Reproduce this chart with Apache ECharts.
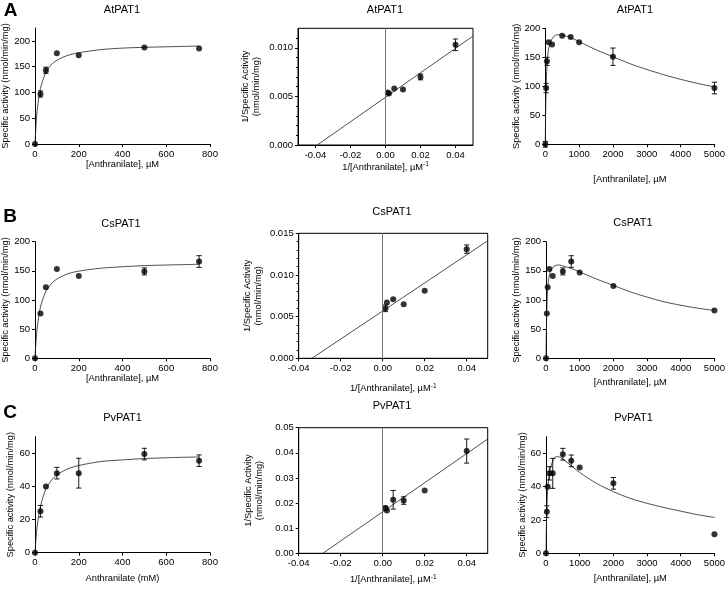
<!DOCTYPE html>
<html><head><meta charset="utf-8">
<script src="https://cdn.jsdelivr.net/npm/echarts@6/dist/echarts.min.js"></script>
<style>html,body{margin:0;padding:0;background:#fff}#c{width:728px;height:589px}</style>
</head><body><div id="c"></div>
<script>
// ---------- data ----------
const satX = [0, 25, 50, 100, 200, 500, 750];
const inhX = [0, 25, 50, 100, 200, 500, 750, 1000, 2000, 5000];
const lbX  = [0.00133, 0.002, 0.005, 0.01, 0.02, 0.04];

// AtPAT1
const atSatY   = [0, 97, 143, 176, 172, 187, 185];
const atSatErr = [0, 6, 6, 0, 0, 0, 0];
const atInhY   = [0, 97, 143, 176, 172, 187, 185, 176, 151, 97];
const atInhErr = [5, 8, 7, 0, 0, 0, 0, 0, 15, 10];
const atLbY    = [0.0054, 0.0053, 0.0058, 0.0057, 0.0070, 0.0103];
const atLbErr  = [0, 0, 0, 0, 0.0003, 0.0006];

// CsPAT1
const csSatY   = [0, 77, 122, 153, 141, 149, 166];
const csSatErr = [0, 0, 0, 0, 0, 6, 10];
const csInhY   = [0, 77, 122, 153, 141, 149, 166, 147, 124, 82];
const csInhErr = [0, 0, 0, 0, 0, 6, 10, 0, 0, 0];
const csLbY    = [0.0060, 0.0067, 0.0071, 0.0065, 0.0081, 0.0131];
const csLbErr  = [0.0004, 0, 0, 0, 0, 0.0005];

// PvPAT1
const pvSatY   = [0, 25, 40, 48, 48, 59.5, 55.5];
const pvSatErr = [0, 3.5, 0, 3.5, 9, 3.5, 3.5];
const pvInhY   = [0, 25, 40, 48, 48, 59.5, 55.5, 51.5, 42, 11.5];
const pvInhErr = [0, 3.5, 0, 4, 9, 3.5, 3.5, 0, 3.5, 0];
const pvLbY    = [0.0180, 0.0170, 0.0213, 0.0210, 0.0250, 0.0407];
const pvLbErr  = [0.0007, 0, 0.0037, 0.0015, 0, 0.0048];

// fitted curves
const satFitX   = [0, 5, 10, 25, 50, 75, 100, 150, 200, 300, 400, 500, 600, 750];
const atSatFitY = [0, 39, 65, 108, 139, 154, 162.5, 172, 177, 183, 186, 187.5, 188.5, 190];
const csSatFitY = [0, 31, 52, 88, 115, 128, 136, 145, 149.5, 154.5, 157, 159, 160, 161.3];
const pvSatFitY = [0, 9, 16, 28, 38.5, 43.7, 47, 50.6, 52.6, 55, 56, 56.8, 57.3, 57.8];

const inhFitX   = [0, 10, 25, 50, 100, 200, 300, 400, 500, 750, 1000, 1500, 2000, 2500, 3000, 3500, 4000, 4500, 5000];
const atInhFitY = [0, 55, 95, 135, 165, 182, 188, 189, 188.5, 184, 177, 163, 151, 139, 129, 120, 112, 105, 99];
const csInhFitY = [0, 45, 85, 118, 143, 156, 159.5, 160, 158.5, 154, 148, 136, 125, 114, 105, 97, 91, 86, 82];
const pvInhFitY = [0, 14, 27, 38, 48, 55.5, 58, 57.8, 56.5, 52.5, 48.5, 42, 37, 33, 30, 27.5, 25.3, 23.2, 21.5];

const atLbLineX = [-0.039, 0.05],  atLbLineY = [0, 0.0112];
const csLbLineX = [-0.0337, 0.05], csLbLineY = [0, 0.0141];
const pvLbLineX = [-0.0285, 0.05], pvLbLineY = [0, 0.0455];

// tick labels
const satXTicks = [0, 200, 400, 600, 800];
const inhXTicks = [0, 1000, 2000, 3000, 4000, 5000];
const lbXTicks  = [-0.04, -0.02, 0, 0.02, 0.04];
const at200Ticks = [0, 50, 100, 150, 200];
const pv60Ticks  = [0, 20, 40, 60];

const titles = ['AtPAT1', 'CsPAT1', 'PvPAT1'];
const letters = ['A', 'B', 'C'];

// ---------- build ----------
const FF = '"Liberation Sans", Arial, Helvetica, sans-serif';
const zip = (a, b) => a.map((v, i) => [v, b[i]]);
const zip3 = (a, b, c) => a.map((v, i) => [v, b[i], c[i]]).filter(d => d[2] > 0);

const grids = [
  {left: 35,    top: 28,    width: 175, height: 116},
  {left: 298,   top: 28.3,  width: 175, height: 116.7, lb: true},
  {left: 545.3, top: 28.3,  width: 172, height: 116},
  {left: 35,    top: 241.7, width: 175, height: 116.6},
  {left: 298.7, top: 233.3, width: 189, height: 125, lb: true},
  {left: 546,   top: 241.7, width: 171, height: 116.6},
  {left: 35,    top: 436.7, width: 175, height: 116},
  {left: 298.7, top: 427.7, width: 189, height: 125.6, lb: true},
  {left: 546,   top: 436.7, width: 171, height: 116.6}
];

const axisCommon = {
  axisLine: {show: true, onZero: false, lineStyle: {color: '#000', width: 1}},
  axisTick: {show: true, length: 3, lineStyle: {color: '#000', width: 1}},
  splitLine: {show: false},
  nameTextStyle: {fontFamily: FF, fontSize: 9.3, color: '#000'}
};
function lab(fmt, cv, margin) {
  return {fontFamily: FF, fontSize: 9.5, color: '#000', margin: margin, formatter: fmt, customValues: cv, hideOverlap: false};
}

const xAxes = [], yAxes = [], series = [], titleArr = [];

const panels = [
  // row A
  {kind: 'sat', x: satX, y: atSatY, e: atSatErr, fx: satFitX, fy: atSatFitY, ymax: 225, yt: at200Ticks, xname: '[Anthranilate], µM', xgap: 15, ygap: 25},
  {kind: 'lb', x: lbX, y: atLbY, e: atLbErr, lx: atLbLineX, ly: atLbLineY, xmin: -0.05, ymax: 0.012, yint: 0.005, ydec: 3, minor: true, xgap: 14, ygap: 36},
  {kind: 'inh', x: inhX, y: atInhY, e: atInhErr, fx: inhFitX, fy: atInhFitY, ymax: 200, yt: at200Ticks, xname: '[Anthranilate], µM', xgap: 31, ygap: 23},
  // row B
  {kind: 'sat', x: satX, y: csSatY, e: csSatErr, fx: satFitX, fy: csSatFitY, ymax: 200, yt: at200Ticks, xname: '[Anthranilate], µM', xgap: 14, ygap: 25},
  {kind: 'lb', x: lbX, y: csLbY, e: csLbErr, lx: csLbLineX, ly: csLbLineY, xmin: -0.04, ymax: 0.015, yint: 0.005, ydec: 3, minor: true, xgap: 24, ygap: 35},
  {kind: 'inh', x: inhX, y: csInhY, e: csInhErr, fx: inhFitX, fy: csInhFitY, ymax: 200, yt: at200Ticks, xname: '[Anthranilate], µM', xgap: 20, ygap: 24},
  // row C
  {kind: 'sat', x: satX, y: pvSatY, e: pvSatErr, fx: satFitX, fy: pvSatFitY, ymax: 70, yt: pv60Ticks, xname: 'Anthranilate (mM)', xgap: 21, ygap: 20},
  {kind: 'lb', x: lbX, y: pvLbY, e: pvLbErr, lx: pvLbLineX, ly: pvLbLineY, xmin: -0.04, ymax: 0.05, yint: 0.01, ydec: 2, minor: false, xgap: 20, ygap: 34},
  {kind: 'inh', x: inhX, y: pvInhY, e: pvInhErr, fx: inhFitX, fy: pvInhFitY, ymax: 70, yt: pv60Ticks, xname: '[Anthranilate], µM', xgap: 21, ygap: 19}
];

const titlePos = [[122, 10], [385, 10], [635, 10], [121, 224], [392, 212], [633, 223], [122.5, 418], [392, 406], [633.5, 418]];
const letterPos = [[10.5, 10.5], [10, 216.5], [10, 413]];

function errRender(params, api) {
  const x = api.value(0), y = api.value(1), e = api.value(2);
  const t = api.coord([x, y + e]), b = api.coord([x, y - e]);
  const hw = 2.6, st = {stroke: '#000', lineWidth: 0.9};
  return {type: 'group', children: [
    {type: 'line', shape: {x1: t[0], y1: t[1], x2: b[0], y2: b[1]}, style: st},
    {type: 'line', shape: {x1: t[0] - hw, y1: t[1], x2: t[0] + hw, y2: t[1]}, style: st},
    {type: 'line', shape: {x1: b[0] - hw, y1: b[1], x2: b[0] + hw, y2: b[1]}, style: st}
  ]};
}

panels.forEach((p, i) => {
  const g = grids[i];
  const gridOpt = {left: g.left, top: g.top, width: g.width, height: g.height, containLabel: false};
  if (g.lb) Object.assign(gridOpt, {show: true, borderColor: '#000', borderWidth: 1, backgroundColor: 'transparent'});
  grids[i] = gridOpt;
  const row = Math.floor(i / 3);

  if (p.kind === 'lb') {
    xAxes.push(Object.assign({}, axisCommon, {
      type: 'value', gridIndex: i, min: p.xmin, max: 0.05, interval: 0.01,
      axisTick: Object.assign({}, axisCommon.axisTick, {customValues: lbXTicks}),
      axisLabel: lab(v => v.toFixed(2), lbXTicks, 5),
      name: '1/[Anthranilate], µM{sup|-1}', nameLocation: 'middle', nameGap: p.xgap,
      nameTextStyle: {fontFamily: FF, fontSize: 9.3, color: '#000', rich: {sup: {fontFamily: FF, fontSize: 6.5, verticalAlign: 'top', padding: [0, 0, 6, 0]}}}
    }));
    const yt = [];
    for (let v = 0; v <= p.ymax + 1e-9; v += p.yint) yt.push(+v.toFixed(4));
    yAxes.push(Object.assign({}, axisCommon, {
      type: 'value', gridIndex: i, min: 0, max: p.ymax, interval: p.yint,
      axisTick: Object.assign({}, axisCommon.axisTick, {customValues: yt}),
      minorTick: {show: p.minor, splitNumber: 5, length: 2, lineStyle: {color: '#000', width: 1}},
      axisLabel: lab(v => v.toFixed(p.ydec), yt, 5),
      name: '1/Specific Activity\n(nmol/min/mg)', nameLocation: 'middle', nameGap: p.ygap,
      nameTextStyle: {fontFamily: FF, fontSize: 9.3, color: '#000', lineHeight: 11}
    }));
    series.push({type: 'line', xAxisIndex: i, yAxisIndex: i, data: zip(p.lx, p.ly), showSymbol: false, symbol: 'none',
      lineStyle: {color: '#222', width: 0.8}, z: 2, silent: true,
      markLine: {silent: true, symbol: 'none', label: {show: false}, lineStyle: {color: '#777', width: 1, type: 'solid'}, data: [{xAxis: 0}]}});
  } else {
    const xt = p.kind === 'sat' ? satXTicks : inhXTicks;
    const xmax = p.kind === 'sat' ? 800 : 5000;
    xAxes.push(Object.assign({}, axisCommon, {
      type: 'value', gridIndex: i, min: 0, max: xmax, interval: xt[1],
      axisLabel: lab(v => String(v), xt, 5),
      name: p.xname, nameLocation: 'middle', nameGap: p.xgap
    }));
    yAxes.push(Object.assign({}, axisCommon, {
      type: 'value', gridIndex: i, min: 0, max: p.ymax, interval: p.yt[1],
      axisTick: Object.assign({}, axisCommon.axisTick, {customValues: p.yt}),
      axisLabel: lab(v => String(v), p.yt, 5),
      name: 'Specific activity (nmol/min/mg)', nameLocation: 'middle', nameGap: p.ygap
    }));
    series.push({type: 'line', xAxisIndex: i, yAxisIndex: i, data: zip(p.fx, p.fy), showSymbol: false, symbol: 'none',
      smooth: 0.3, lineStyle: {color: '#222', width: 0.8}, z: 2, silent: true});
  }
  series.push({type: 'custom', xAxisIndex: i, yAxisIndex: i, data: zip3(p.x, p.y, p.e), renderItem: errRender,
    encode: {x: 0, y: 1}, clip: false, z: 3, silent: true});
  series.push({type: 'scatter', xAxisIndex: i, yAxisIndex: i, data: zip(p.x, p.y), symbol: 'circle', symbolSize: 6,
    itemStyle: {color: '#000'}, z: 4, silent: true, clip: false});

  titleArr.push({text: titles[row], left: titlePos[i][0], top: titlePos[i][1], textAlign: 'center', textVerticalAlign: 'middle', padding: 0,
    textStyle: {fontFamily: FF, fontSize: 11, fontWeight: 'normal', color: '#000'}});
});
letters.forEach((L, r) => {
  titleArr.push({text: L, left: letterPos[r][0], top: letterPos[r][1], textAlign: 'center', textVerticalAlign: 'middle', padding: 0,
    textStyle: {fontFamily: FF, fontSize: 19, fontWeight: 'bold', color: '#000'}});
});

const chart = echarts.init(document.getElementById('c'), null, {renderer: 'canvas'});
chart.setOption({
  animation: false,
  backgroundColor: '#fff',
  title: titleArr,
  grid: grids,
  xAxis: xAxes,
  yAxis: yAxes,
  series: series
});
</script></body></html>
